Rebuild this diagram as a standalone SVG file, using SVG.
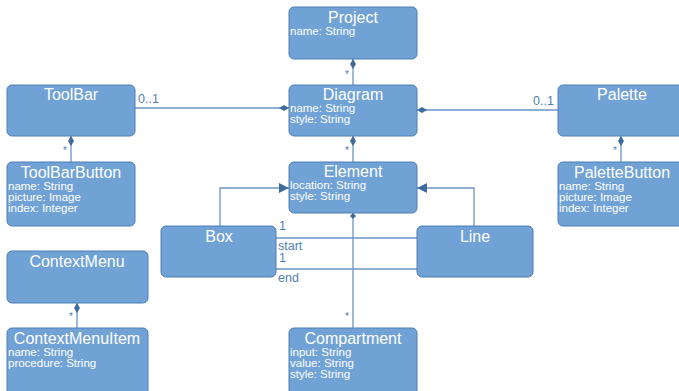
<svg xmlns="http://www.w3.org/2000/svg" width="679" height="391" viewBox="0 0 679 391">
  <style>
    .box { fill: #71a2d6; stroke: #4f7fb4; stroke-width: 1; }
    .title { font-family: "Liberation Sans", Arial, sans-serif; font-size: 16px; fill: #ffffff; text-anchor: middle; }
    .attr { font-family: "Liberation Sans", Arial, sans-serif; font-size: 11.5px; fill: #ffffff; }
    .conn { fill: none; stroke: #6a94c4; stroke-width: 1.3; }
    .lbl { font-family: "Liberation Sans", Arial, sans-serif; font-size: 12.5px; fill: #4f7fb4; }
    .star { font-family: "Liberation Sans", Arial, sans-serif; font-size: 10px; fill: #4f7fb4; }
  </style>
  <defs>
    <marker id="diamond" viewBox="0 0 10 6" refX="0" refY="3" markerWidth="10" markerHeight="6" markerUnits="userSpaceOnUse" orient="auto">
      <path d="M0,3 L5,0 L10,3 L5,6 Z" fill="#3f6c9e"/>
    </marker>
    <marker id="dot" viewBox="0 0 6 6" refX="0" refY="3" markerWidth="6" markerHeight="6" markerUnits="userSpaceOnUse" orient="auto">
      <path d="M0,3 L3,0 L6,3 L3,6 Z" fill="#3f6c9e"/>
    </marker>
    <marker id="tri" viewBox="0 0 10 10" refX="10" refY="5" markerWidth="10" markerHeight="10" markerUnits="userSpaceOnUse" orient="auto">
      <path d="M0,0 L10,5 L0,10 Z" fill="#3f6c9e"/>
    </marker>
  </defs>

  <!-- connectors -->
  <g id="connectors">
    <path class="conn" d="M353,59 V85" marker-start="url(#diamond)"/>
    <path class="conn" d="M289,108 H135" marker-start="url(#diamond)"/>
    <path class="conn" d="M417,110 H558" marker-start="url(#diamond)"/>
    <path class="conn" d="M71,136 V162" marker-start="url(#diamond)"/>
    <path class="conn" d="M621,136 V162" marker-start="url(#diamond)"/>
    <path class="conn" d="M353,136 V162" marker-start="url(#diamond)"/>
    <path class="conn" d="M353,213 V328" marker-start="url(#dot)"/>
    <path class="conn" d="M77,303 V328" marker-start="url(#diamond)"/>
    <path class="conn" d="M220,226 V188 H289" marker-end="url(#tri)"/>
    <path class="conn" d="M474,226 V188 H417" marker-end="url(#tri)"/>
    <path class="conn" d="M276,238 H417"/>
    <path class="conn" d="M276,269 H417"/>

    <text class="star" x="345" y="78">*</text>
    <text class="star" x="63" y="154">*</text>
    <text class="star" x="613" y="154">*</text>
    <text class="star" x="345" y="154">*</text>
    <text class="star" x="345" y="320">*</text>
    <text class="star" x="69" y="320">*</text>
    <text class="lbl" x="138" y="103">0..1</text>
    <text class="lbl" x="533" y="105">0..1</text>
    <text class="lbl" x="279" y="230">1</text>
    <text class="lbl" x="278" y="250">start</text>
    <text class="lbl" x="279" y="262">1</text>
    <text class="lbl" x="278" y="282">end</text>
  </g>

  <g id="project">
    <rect class="box" x="289" y="7" width="128" height="52" rx="5"/>
    <text class="title" x="353" y="23">Project</text>
    <text class="attr" x="290" y="35">name: String</text>
  </g>

  <g id="diagram">
    <rect class="box" x="289" y="85" width="128" height="51" rx="5"/>
    <text class="title" x="353" y="100">Diagram</text>
    <text class="attr" x="290" y="112">name: String</text>
    <text class="attr" x="290" y="123">style: String</text>
  </g>

  <g id="toolbar">
    <rect class="box" x="7" y="85" width="128" height="51" rx="5"/>
    <text class="title" x="71" y="100">ToolBar</text>
  </g>

  <g id="palette">
    <rect class="box" x="558" y="85" width="128" height="51" rx="5"/>
    <text class="title" x="622" y="100">Palette</text>
  </g>

  <g id="toolbarbutton">
    <rect class="box" x="7" y="162" width="128" height="64" rx="5"/>
    <text class="title" x="71" y="178">ToolBarButton</text>
    <text class="attr" x="8" y="190">name: String</text>
    <text class="attr" x="8" y="201">picture: Image</text>
    <text class="attr" x="8" y="212">index: Integer</text>
  </g>

  <g id="palettebutton">
    <rect class="box" x="558" y="162" width="128" height="64" rx="5"/>
    <text class="title" x="622" y="178">PaletteButton</text>
    <text class="attr" x="559" y="190">name: String</text>
    <text class="attr" x="559" y="201">picture: Image</text>
    <text class="attr" x="559" y="212">index: Integer</text>
  </g>

  <g id="element">
    <rect class="box" x="289" y="162" width="128" height="51" rx="5"/>
    <text class="title" x="353" y="177">Element</text>
    <text class="attr" x="290" y="189">location: String</text>
    <text class="attr" x="290" y="200">style: String</text>
  </g>

  <g id="box">
    <rect class="box" x="161" y="226" width="115" height="51" rx="5"/>
    <text class="title" x="219" y="242">Box</text>
  </g>

  <g id="line">
    <rect class="box" x="417" y="226" width="116" height="51" rx="5"/>
    <text class="title" x="475" y="242">Line</text>
  </g>

  <g id="contextmenu">
    <rect class="box" x="7" y="251" width="141" height="52" rx="5"/>
    <text class="title" x="77" y="267">ContextMenu</text>
  </g>

  <g id="contextmenuitem">
    <rect class="box" x="7" y="328" width="141" height="75" rx="5"/>
    <text class="title" x="77" y="344">ContextMenuItem</text>
    <text class="attr" x="8" y="356">name: String</text>
    <text class="attr" x="8" y="367">procedure: String</text>
  </g>

  <g id="compartment">
    <rect class="box" x="289" y="328" width="128" height="75" rx="5"/>
    <text class="title" x="353" y="344">Compartment</text>
    <text class="attr" x="290" y="356">input: String</text>
    <text class="attr" x="290" y="367">value: String</text>
    <text class="attr" x="290" y="378">style: String</text>
  </g>
</svg>
